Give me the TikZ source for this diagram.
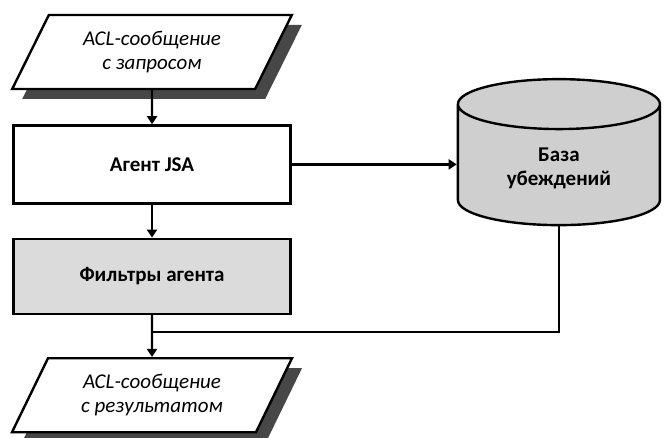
\documentclass[tikz,border=0pt]{standalone}
\usepackage{fontspec}
\setmainfont{Carlito}
\usetikzlibrary{shapes.geometric, shadows, arrows.meta, positioning}

\begin{document}
\begin{tikzpicture}[node distance=35pt]
%
% Skiss:
% ACL-запрос -> Агент JSA -> База убеждений
%                  |              |
%                Фильтры -------- +
%                  |
%               ACL-результат
%
% Styles
\tikzstyle{io} = [trapezium, trapezium left angle=62, trapezium right angle=118, trapezium stretches=true, minimum width=280pt, minimum height=74pt, draw=black, line width=2.4pt, fill=white, align=center, font=\fontsize{21}{24}\selectfont\itshape, drop shadow={shadow xshift=10pt, shadow yshift=-10pt, fill=black!72, opacity=1}]
\tikzstyle{process} = [rectangle, minimum width=277pt, minimum height=78pt, draw=black, line width=2.4pt, fill=white, align=center, font=\fontsize{21}{24}\selectfont\bfseries]
\tikzstyle{database} = [cylinder, shape border rotate=90, aspect=0.45, minimum width=202pt, minimum height=146pt, draw=black, line width=2.4pt, fill=black!19, align=center, font=\fontsize{21}{24}\selectfont\bfseries]
\tikzstyle{arrow} = [line width=2.4pt, -{Triangle[length=8pt,width=10pt]}]
\tikzstyle{line} = [line width=2.4pt]
\useasboundingbox (0,0) rectangle (664pt,438pt);
% Nodes
\node (request) [io] at (152pt,386pt) {ACL-сообщение\\с запросом};
\node (agent) [process, below=34pt of request] {Агент JSA};
\node (filters) [process, below=33pt of agent, minimum height=75pt, fill=black!14] {Фильтры агента};
\node (result) [io, below=42pt of filters] {ACL-сообщение\\с результатом};
\node (db) [database, right=165pt of agent, yshift=-4pt] {База\\убеждений};
\coordinate [below=17pt of filters.south] (join);
% Arrows
\draw [arrow] (request) -- (agent);
\draw [arrow] (agent) -- (filters);
\draw [arrow] (agent.east) -- (agent.east -| db.west);
\draw [arrow] (filters) -- (result);
\draw [line] (db.south) |- (join);
\end{tikzpicture}
\end{document}
